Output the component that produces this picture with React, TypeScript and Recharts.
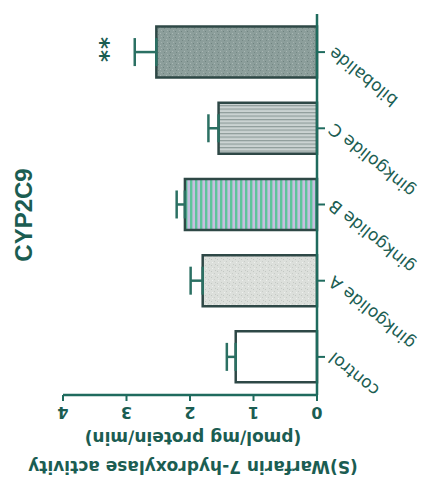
import React from 'react';
import { BarChart, Bar, XAxis, YAxis, ErrorBar, Cell, LabelList } from 'recharts';

const categories = ['control', 'ginkgolide A', 'ginkgolide B', 'ginkgolide C', 'bilobalide'];
const meanValues = [1.28, 1.8, 2.08, 1.55, 2.53];
const semValues = [0.14, 0.19, 0.13, 0.16, 0.34];
const significance = ['', '', '', '', '**'];
const valueTicks = [0, 1, 2, 3, 4];
const barFills = ['#ffffff', 'url(#stippleLight)', 'url(#vstripes)', 'url(#hlines)', 'url(#stippleDark)'];
const axisTitleLines = ['(S)Warfarin 7-hydroxylase activity', '(pmol/mg protein/min)'];
const chartTitle = 'CYP2C9';

const TEXT = '#1b5d52';
const AXIS = '#1f6b5e';
const BAR_STROKE = '#2e4846';
const ERR = '#2b7063';

const data = categories.map((name, i) => ({
  name,
  mean: meanValues[i],
  err: [0, semValues[i]],
  sig: significance[i],
}));

const ValueTick = (props: any) => {
  const { x, y, payload } = props;
  const cy = y + 9;
  return (
    <text
      x={x}
      y={cy}
      transform={`rotate(180 ${x} ${cy})`}
      textAnchor="middle"
      dominantBaseline="central"
      fontFamily="DejaVu Sans"
      fontWeight="bold"
      fontSize={16}
      fill={TEXT}
    >
      {payload.value}
    </text>
  );
};

const CategoryTick = (props: any) => {
  const { x, y, payload } = props;
  const ax = x + 4;
  const ay = y - 1;
  return (
    <text
      x={ax}
      y={ay}
      transform={`rotate(-141 ${ax} ${ay})`}
      textAnchor="end"
      dominantBaseline="central"
      fontFamily="DejaVu Sans"
      fontSize={17}
      fill={TEXT}
    >
      {payload.value}
    </text>
  );
};

const AxisTitle = (props: any) => {
  const vb = props.viewBox || {};
  const cx = vb.x + vb.width / 2 + 3;
  const cy = 452;
  return (
    <g transform={`rotate(180 ${cx} ${cy})`}>
      {axisTitleLines.map((line, i) => (
        <text
          key={i}
          x={cx}
          y={cy - 14.5 + i * 29}
          textAnchor="middle"
          dominantBaseline="central"
          fontFamily="DejaVu Sans"
          fontWeight="bold"
          fontSize={17}
          fill={TEXT}
        >
          {line}
        </text>
      ))}
    </g>
  );
};

const SigLabel = (props: any) => {
  const { x, y, width, height, value } = props;
  if (!value) return null;
  const idx = props.index != null ? props.index : significance.indexOf(value);
  const left = Math.min(x, x + width);
  const pxPerUnit = Math.abs(width) / meanValues[idx];
  const cx = left - semValues[idx] * pxPerUnit - 27;
  const cy = y + height / 2 - 3;
  return (
    <text
      x={cx}
      y={cy}
      transform={`rotate(-90 ${cx} ${cy})`}
      textAnchor="middle"
      dominantBaseline="central"
      fontFamily="DejaVu Sans"
      fontWeight="bold"
      fontSize={23}
      letterSpacing={1}
      fill={TEXT}
    >
      {value}
    </text>
  );
};

export default function App() {
  return (
    <div style={{ position: 'absolute', left: 0, top: 0, width: 433, height: 486, background: '#ffffff' }}>
      <svg width={433} height={486} style={{ position: 'absolute', left: 0, top: 0 }}>
        <defs>
          <pattern id="stippleLight" patternUnits="userSpaceOnUse" width={6} height={6}>
            <rect width={6} height={6} fill="#dcdfdb" />
            <rect x={1} y={1} width={1} height={1} fill="#c2c7c2" />
            <rect x={4} y={3} width={1} height={1} fill="#c8ccc8" />
            <rect x={2} y={4} width={1} height={1} fill="#eef0ee" />
            <rect x={5} y={0} width={1} height={1} fill="#c5c9c5" />
          </pattern>
          <pattern id="stippleDark" patternUnits="userSpaceOnUse" width={6} height={6}>
            <rect width={6} height={6} fill="#8c9e9b" />
            <rect x={1} y={1} width={1} height={1} fill="#6f827f" />
            <rect x={4} y={3} width={1} height={1} fill="#a9b7b4" />
            <rect x={2} y={4} width={1} height={1} fill="#758885" />
            <rect x={5} y={0} width={1} height={1} fill="#a3b1ae" />
          </pattern>
          <pattern id="hlines" patternUnits="userSpaceOnUse" width={6} height={3.5}>
            <rect width={6} height={3.5} fill="#cbd3d2" />
            <rect y={0} width={6} height={1.2} fill="#8f9d9b" />
          </pattern>
          <pattern id="vstripes" patternUnits="userSpaceOnUse" width={5} height={6}>
            <rect width={5} height={6} fill="#c6bfe0" />
            <rect x={0} width={2.4} height={6} fill="#5ec49b" />
          </pattern>
        </defs>
        <text
          x={23}
          y={215}
          transform="rotate(-90 23 215)"
          textAnchor="middle"
          dominantBaseline="central"
          fontFamily="Liberation Sans"
          fontWeight="bold"
          fontSize={24}
          fill={TEXT}
        >
          {chartTitle}
        </text>
      </svg>
      <div style={{ position: 'absolute', left: 0, top: 0 }}>
        <BarChart
          width={433}
          height={486}
          data={data}
          layout="vertical"
          margin={{ top: 14, right: 0, bottom: 0, left: 63 }}
          barCategoryGap="16.5%"
        >
          <XAxis
            type="number"
            domain={[0, 4]}
            ticks={valueTicks}
            reversed
            height={91}
            tickSize={6}
            axisLine={{ stroke: AXIS, strokeWidth: 2.5 }}
            tickLine={{ stroke: AXIS, strokeWidth: 2 }}
            tick={<ValueTick />}
            label={{ content: (p: any) => <AxisTitle {...p} /> } as any}
          />
          <YAxis
            type="category"
            dataKey="name"
            orientation="right"
            reversed
            width={116}
            tickSize={8}
            axisLine={{ stroke: AXIS, strokeWidth: 2.5 }}
            tickLine={{ stroke: AXIS, strokeWidth: 2 }}
            tick={<CategoryTick />}
            interval={0}
          />
          <Bar dataKey="mean" stroke={BAR_STROKE} strokeWidth={2.5} isAnimationActive={false}>
            {data.map((d, i) => (
              <Cell key={d.name} fill={barFills[i]} />
            ))}
            <ErrorBar dataKey="err" direction="x" width={14} stroke={ERR} strokeWidth={2.5} />
            <LabelList dataKey="sig" content={<SigLabel />} />
          </Bar>
        </BarChart>
      </div>
    </div>
  );
}
